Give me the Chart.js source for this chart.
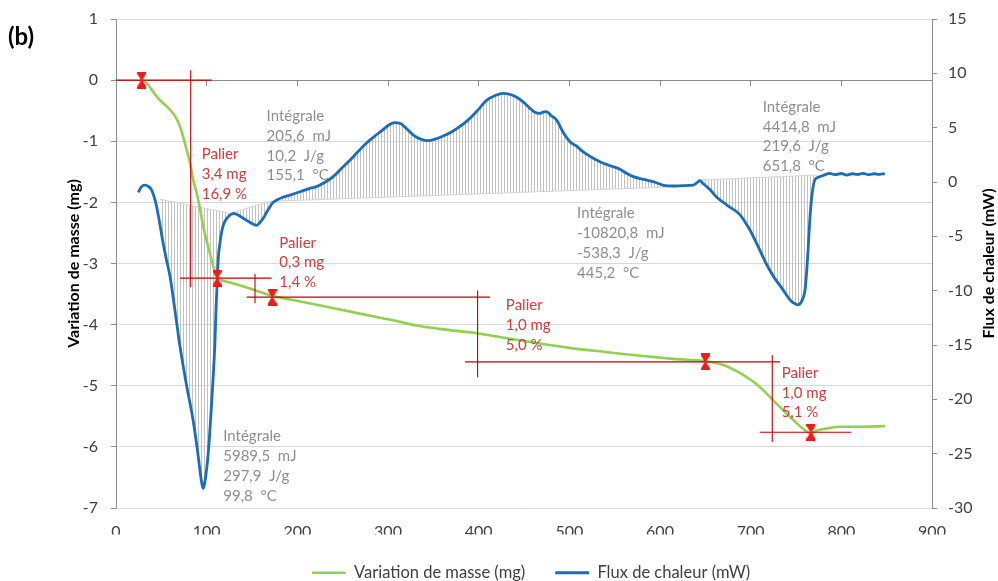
<!DOCTYPE html>
<html lang="fr">
<head>
<meta charset="UTF-8">
<title>ATG - DSC (b)</title>
<script src="https://cdn.jsdelivr.net/npm/chart.js"></script>
<style>
  html, body { margin: 0; padding: 0; background: #fff; }
  #cadre { width: 998px; height: 581px; }
</style>
</head>
<body>
<div id="cadre"><canvas id="graphique"></canvas></div>
<script>
// graduations : [min, max, pas]
const gradX = [0, 900, 100];
const gradMasse = [-7, 1, 1];
const gradFlux = [-30, 15, 5];

// courbe verte : variation de masse (mg), axe de gauche
const tempMasse = [28.3, 33.8, 40, 44.9, 50, 55.9, 63.2, 67, 70.6, 73.5, 76.1, 79, 81.6, 85, 89, 92.6, 96.3, 100, 103.7, 107,
  111, 115, 120, 125.7, 135, 147.8, 160, 172.4, 185, 199.3, 220, 239.5, 269, 305.7, 330, 357, 398, 430, 467.6, 500,
  541, 578, 614.6, 650, 669.8, 683, 695.6, 707, 717.6, 732.3, 747, 760, 766.5, 772, 783.8, 798.5, 820, 848];
const masse = [0, -0.05, -0.17, -0.27, -0.35, -0.43, -0.55, -0.64, -0.76, -0.9, -1.04, -1.2, -1.35, -1.62, -1.85, -2.1, -2.4, -2.63, -2.84, -3.03,
  -3.19, -3.26, -3.29, -3.31, -3.35, -3.41, -3.47, -3.53, -3.57, -3.61, -3.67, -3.73, -3.82, -3.93, -4.01, -4.07, -4.14, -4.22, -4.31, -4.38,
  -4.45, -4.51, -4.56, -4.6, -4.66, -4.75, -4.86, -4.98, -5.13, -5.35, -5.56, -5.73, -5.78, -5.74, -5.7, -5.67, -5.67, -5.66];

// courbe bleue : flux de chaleur (mW), axe de droite
const tempFlux = [24.6, 28, 32, 36, 39.3, 42, 44.8, 48, 52, 56, 59.6, 65, 70.6, 78, 85, 90, 94, 96, 98, 101.8,
  105, 107, 109, 110.3, 111.8, 113, 114.7, 116.5, 118.4, 121, 123.9, 127, 130, 135, 140.4, 148, 155, 158, 162.4, 166,
  169.8, 173, 177.2, 184, 192, 203, 214, 221, 230, 239.5, 248, 258, 267, 276, 285, 294, 301, 307.6, 313, 320,
  328, 336, 344.5, 352, 361, 370, 379, 387, 394, 401, 409, 418, 427, 435, 442, 450, 456.6, 462, 467.6, 472,
  475, 480, 486, 493, 500.7, 508, 515, 524, 533.8, 545, 555.9, 563, 570.5, 582, 592.6, 604, 614.7, 626, 636.7, 641,
  644, 647, 655, 662, 675, 688, 699, 708, 717, 726, 735.5, 742, 746.7, 752, 756, 760, 762, 763.5, 765, 767,
  770.7, 775, 780, 787, 793, 800, 806, 812, 818, 824, 830, 836, 842, 848];
const flux = [-0.95, -0.45, -0.28, -0.42, -0.74, -1.35, -2.27, -3.7, -5.64, -7.3, -8.7, -11.8, -15.15, -18.8, -21.9, -24.8, -27.4, -28.2, -27.6, -24.9,
  -21.0, -18.2, -15.0, -11.8, -8.7, -6.8, -5.6, -4.6, -3.96, -3.5, -3.19, -2.98, -2.9, -3.05, -3.34, -3.72, -4.0, -3.8, -3.34, -2.8,
  -2.27, -1.9, -1.66, -1.4, -1.2, -0.9, -0.58, -0.43, -0.05, 0.49, 1.2, 2.0, 2.8, 3.56, 4.2, 4.78, 5.25, 5.46, 5.4, 4.95,
  4.32, 3.95, 3.8, 3.95, 4.23, 4.6, 5.09, 5.6, 6.16, 6.8, 7.54, 7.95, 8.16, 8.05, 7.8, 7.3, 6.78, 6.42, 6.32, 6.45,
  6.47, 6.1, 5.7, 4.6, 3.71, 3.3, 2.79, 2.3, 1.87, 1.5, 1.17, 0.8, 0.49, 0.25, 0.03, -0.3, -0.37, -0.33, -0.28, -0.05,
  0.12, -0.1, -0.7, -1.35, -2.2, -3.0, -4.4, -5.9, -7.5, -8.8, -9.9, -10.7, -11.1, -11.3, -11.0, -9.9, -8.0, -6.0, -3.8, -1.65,
  0.18, 0.45, 0.6, 0.8, 0.68, 0.78, 0.64, 0.76, 0.69, 0.8, 0.67, 0.76, 0.71, 0.76];

// lignes de base des intégrales (axe de droite) : [x1, y1, x2, y2]
const lignesBase = [
  [48.5, -1.59, 125.7, -2.88],
  [125.7, -2.88, 170, -1.78],
  [170, -1.78, 608, -0.47],
  [644, 0.18, 772.7, 0.64]
];

// paliers (axe de gauche) : points rouges et traits de construction [x1, y1, x2, y2]
const palierX = [28.3, 111.6, 172.4, 650, 766.5];
const palierY = [0, -3.24, -3.55, -4.61, -5.76];
const traitsPalier = [
  [0, 0, 105.5, 0], [82.4, 0.16, 82.4, -3.39],
  [70.6, -3.24, 171.7, -3.24], [153.3, -3.17, 153.3, -3.65],
  [144, -3.55, 412.4, -3.55], [398.8, -3.44, 398.8, -4.86],
  [385, -4.61, 732.3, -4.61], [723.8, -4.5, 723.8, -5.92],
  [710, -5.76, 811, -5.76]
];

// textes
const textesPalier = [
  ['Palier', '3,4 mg', '16,9 %'],
  ['Palier', '0,3 mg', '1,4 %'],
  ['Palier', '1,0 mg', '5,0 %'],
  ['Palier', '1,0 mg', '5,1 %']
];
const posPalier = [[94.5, -1.21], [180.1, -2.66], [430, -3.68], [734.2, -4.79]];
const textesIntegrale = [
  ['Intégrale', '205,6  mJ', '10,2  J/g', '155,1  °C'],
  ['Intégrale', '5989,5  mJ', '297,9  J/g', '99,8  °C'],
  ['Intégrale', '-10820,8  mJ', '-538,3  J/g', '445,2  °C'],
  ['Intégrale', '4414,8  mJ', '219,6  J/g', '651,8  °C']
];
const posIntegrale = [[166.1, -0.59], [118.3, -5.83], [508.5, -2.18], [713.3, -0.44]];

const vert = '#92d050';
const bleu = '#1a6db6';
const rouge = '#c00000';
const rougeTexte = '#d23c3c';
const grisTexte = '#8e8e8e';
const grisAxe = '#8c8c8c';

const ctx = document.getElementById('graphique');

// motif hachuré vertical pour les aires intégrées
const motif = document.createElement('canvas');
motif.width = 3; motif.height = 2;
const mc = motif.getContext('2d');
mc.fillStyle = '#c2c2c2';
mc.fillRect(0, 0, 1, 2);
const hachures = ctx.getContext('2d').createPattern(motif, 'repeat');

// marqueur rouge en sablier
const sablier = document.createElement('canvas');
sablier.width = 9; sablier.height = 17;
const sc = sablier.getContext('2d');
sc.fillStyle = '#ee1c1c';
sc.beginPath();
sc.moveTo(0, 0); sc.lineTo(9, 0); sc.lineTo(9, 2); sc.lineTo(5.2, 8.5); sc.lineTo(9, 15); sc.lineTo(9, 17);
sc.lineTo(0, 17); sc.lineTo(0, 15); sc.lineTo(3.8, 8.5); sc.lineTo(0, 2);
sc.closePath(); sc.fill();

const points = (xs, ys) => xs.map((x, i) => ({x: x, y: ys[i]}));

const datasets = [
  {
    label: 'Variation de masse (mg)', data: points(tempMasse, masse), yAxisID: 'y',
    borderColor: vert, backgroundColor: vert, borderWidth: 2.6, pointRadius: 0,
    cubicInterpolationMode: 'monotone', order: 1
  },
  {
    label: 'Flux de chaleur (mW)', data: points(tempFlux, flux), yAxisID: 'y1',
    borderColor: bleu, backgroundColor: bleu, borderWidth: 2.8, pointRadius: 0,
    cubicInterpolationMode: 'monotone', order: 2
  }
];
lignesBase.forEach(l => datasets.push({
  label: 'base', data: [{x: l[0], y: l[1]}, {x: l[2], y: l[3]}], yAxisID: 'y1',
  borderColor: '#d4d4d4', borderWidth: 1, pointRadius: 0,
  backgroundColor: hachures, fill: {target: 1}, order: 3
}));
traitsPalier.forEach(t => datasets.push({
  label: 'trait', data: [{x: t[0], y: t[1]}, {x: t[2], y: t[3]}], yAxisID: 'y',
  borderColor: rouge, borderWidth: 1.1, pointRadius: 0, fill: false, order: 0
}));
datasets.push({
  label: 'palier', data: points(palierX, palierY), yAxisID: 'y',
  showLine: false, pointStyle: sablier, pointRadius: 6, order: -1
});

// textes d'annotation, titre de droite et repère (b)
const annotations = {
  id: 'annotations',
  afterDatasetsDraw(chart) {
    const c = chart.ctx;
    const sx = chart.scales.x, sy = chart.scales.y;
    c.save();
    c.textAlign = 'left';
    c.textBaseline = 'middle';
    c.font = '15px Lato';
    c.fillStyle = rougeTexte;
    textesPalier.forEach((lignes, i) => {
      const px = sx.getPixelForValue(posPalier[i][0]);
      const py = sy.getPixelForValue(posPalier[i][1]);
      lignes.forEach((t, k) => c.fillText(t, px, py + k * 19.8));
    });
    c.fillStyle = grisTexte;
    textesIntegrale.forEach((lignes, i) => {
      const px = sx.getPixelForValue(posIntegrale[i][0]);
      const py = sy.getPixelForValue(posIntegrale[i][1]);
      lignes.forEach((t, k) => c.fillText(t, px, py + k * 19.8));
    });
    c.fillStyle = '#000';
    c.font = 'bold 24px Lato';
    c.fillText('(b)', 8, 37);
    c.font = 'bold 16px Lato';
    c.textAlign = 'center';
    c.translate(989, (chart.chartArea.top + chart.chartArea.bottom) / 2);
    c.rotate(-Math.PI / 2);
    c.fillText('Flux de chaleur (mW)', 0, 0);
    c.restore();
  }
};

// pas de marge automatique au-dessus / au-dessous des axes verticaux
const sansMarge = s => { s.paddingTop = 0; s.paddingBottom = 0; };

const dessiner = () => {
  Chart.defaults.font.family = 'Lato';
  new Chart(ctx, {
    type: 'line',
    data: {datasets: datasets},
    options: {
      responsive: true,
      maintainAspectRatio: false,
      animation: false,
      layout: {padding: {top: 19, left: 64, right: 0, bottom: -10}},
      scales: {
        x: {
          type: 'linear', position: 'bottom', min: gradX[0], max: gradX[1],
          ticks: {stepSize: gradX[2], padding: 14, color: '#404040', font: {size: 16}},
          grid: {display: false, drawTicks: false},
          border: {display: false},
          afterFit: s => { s.height = 26.5; }
        },
        x2: {
          type: 'linear', position: {y: 0}, min: gradX[0], max: gradX[1],
          ticks: {stepSize: gradX[2], display: false},
          grid: {drawOnChartArea: false, drawTicks: true, tickLength: 5, tickColor: grisAxe},
          border: {color: grisAxe}
        },
        y: {
          type: 'linear', position: 'left', min: gradMasse[0], max: gradMasse[1],
          ticks: {stepSize: gradMasse[2], padding: 13, color: '#404040', font: {size: 16}},
          grid: {color: '#d9d9d9', tickColor: grisAxe, tickLength: 5},
          border: {color: grisAxe},
          title: {display: true, text: 'Variation de masse (mg)', color: '#000',
                  font: {size: 16, weight: 'bold'}, padding: {top: 0, bottom: 0}},
          afterFit: s => { s.width = 52; sansMarge(s); }
        },
        y1: {
          type: 'linear', position: 'right', min: gradFlux[0], max: gradFlux[1],
          ticks: {stepSize: gradFlux[2], padding: 11, color: '#404040', font: {size: 16}},
          grid: {drawOnChartArea: false, tickColor: grisAxe, tickLength: 5},
          border: {color: grisAxe},
          afterFit: s => { s.width = 66; sansMarge(s); }
        }
      },
      plugins: {
        legend: {
          position: 'bottom',
          labels: {
            usePointStyle: true, pointStyle: 'line', pointStyleWidth: 34, padding: 30,
            color: '#404040', font: {size: 16.5},
            filter: item => item.datasetIndex < 2
          }
        },
        tooltip: {enabled: false}
      }
    },
    plugins: [annotations]
  });
};

Promise.all([
  document.fonts.load('15px Lato'),
  document.fonts.load('bold 16px Lato')
]).then(dessiner, dessiner);
</script>
</body>
</html>
